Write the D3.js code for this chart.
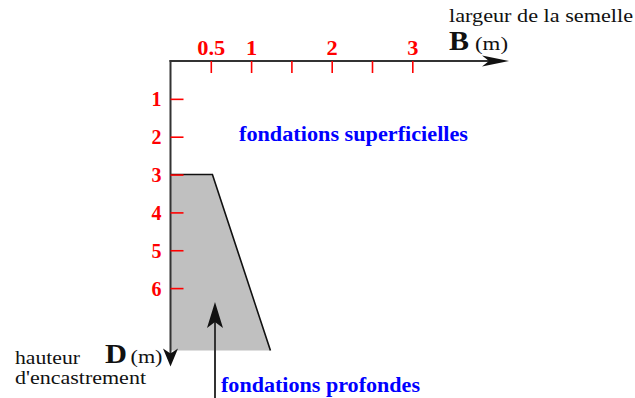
<!DOCTYPE html>
<html>
<head>
<meta charset="utf-8">
<script src="https://cdn.jsdelivr.net/npm/d3@7"></script>
<style>
  body { margin: 0; background: #fff; }
  svg { display: block; }
  svg text { font-family: "Liberation Serif", "Times New Roman", serif; }
</style>
</head>
<body>
<div id="chart"></div>
<script>
// values
var xTicks = [0.5, 1, 1.5, 2, 2.5, 3];
var xTickLabels = ["0.5", "1", "", "2", "", "3"];
var yTicks = [1, 2, 3, 4, 5, 6];
var yTickLabels = ["1", "2", "3", "4", "5", "6"];
var xExtent = [0, 4.2];    // B (m)
var yExtent = [0, 8.07];   // D (m)
// deep foundation zone: [B, D]
var deepZone = [[0, 3], [0.52, 3], [1.24, 7.65], [0, 7.65]];
// pointer towards the deep zone: [B, D] from -> to
var pointer = [[0.552, 9.0], [0.552, 6.37]];

var width = 635, height = 398;

var svg = d3.select("#chart").append("svg")
    .attr("width", width)
    .attr("height", height);

var x = d3.scaleLinear().domain(xExtent).range([170.5, 170.5 + 4.2 * 80.6]);
var y = d3.scaleLinear().domain(yExtent).range([61, 61 + 8.07 * 37.85]);

function arrowHead(tip, dir, len, half, notch) {
    var px = -dir[1], py = dir[0];
    var bx = tip[0] - dir[0] * len, by = tip[1] - dir[1] * len;
    var nx = tip[0] - dir[0] * (len - notch), ny = tip[1] - dir[1] * (len - notch);
    return "M" + tip[0] + "," + tip[1] +
        "L" + (bx + px * half) + "," + (by + py * half) +
        "L" + nx + "," + ny +
        "L" + (bx - px * half) + "," + (by - py * half) + "Z";
}

// grey zone
svg.append("path")
    .datum(deepZone)
    .attr("fill", "#c0c0c0")
    .attr("d", d3.line().x(function(d) { return x(d[0]); }).y(function(d) { return y(d[1]); }));

// outline on top and slanted side only
svg.append("path")
    .datum(deepZone.slice(0, 3))
    .attr("fill", "none")
    .attr("stroke", "#111")
    .attr("stroke-width", 1.6)
    .attr("d", d3.line().x(function(d) { return x(d[0]); }).y(function(d) { return y(d[1]); }));

// pointer arrow
svg.append("line")
    .attr("x1", x(pointer[0][0])).attr("y1", y(pointer[0][1]))
    .attr("x2", x(pointer[1][0])).attr("y2", y(pointer[1][1]) + 10)
    .attr("stroke", "#333")
    .attr("stroke-width", 2);
svg.append("path")
    .attr("d", arrowHead([x(pointer[1][0]), y(pointer[1][1])], [0, -1], 26, 8, 6))
    .attr("fill", "#111");

// axis lines with arrows
svg.append("line")
    .attr("x1", x(0) - 1).attr("y1", y(0))
    .attr("x2", x(xExtent[1]) - 15).attr("y2", y(0))
    .attr("stroke", "#333").attr("stroke-width", 2);
svg.append("path")
    .attr("d", arrowHead([x(xExtent[1]), y(0)], [1, 0], 27, 5.5, 7))
    .attr("fill", "#111");

svg.append("line")
    .attr("x1", x(0)).attr("y1", y(0) - 1)
    .attr("x2", x(0)).attr("y2", y(yExtent[1]) - 10)
    .attr("stroke", "#333").attr("stroke-width", 2);
svg.append("path")
    .attr("d", arrowHead([x(0), y(yExtent[1])], [0, 1], 18, 7.5, 5))
    .attr("fill", "#111");

// red ticks
var xAxis = svg.append("g")
    .attr("transform", "translate(0," + y(0) + ")")
    .call(d3.axisTop(x)
        .tickValues(xTicks)
        .tickFormat(function(d, i) { return xTickLabels[i]; })
        .tickSizeInner(-12)
        .tickSizeOuter(0)
        .tickPadding(6));
xAxis.attr("font-family", null).attr("font-size", null);
xAxis.select(".domain").remove();
xAxis.selectAll(".tick line").attr("stroke", "#ff0000").attr("stroke-width", 1.6);
xAxis.selectAll(".tick text")
    .attr("fill", "#ff0000")
    .attr("transform", "scale(1.12,1)")
    .attr("font-weight", "bold")
    .attr("font-size", 20);

var yAxis = svg.append("g")
    .attr("transform", "translate(" + x(0) + ",0)")
    .call(d3.axisLeft(y)
        .tickValues(yTicks)
        .tickFormat(function(d, i) { return yTickLabels[i]; })
        .tickSizeInner(-13)
        .tickSizeOuter(0)
        .tickPadding(9));
yAxis.attr("font-family", null).attr("font-size", null);
yAxis.select(".domain").remove();
yAxis.selectAll(".tick line").attr("stroke", "#ff0000").attr("stroke-width", 1.6);
yAxis.selectAll(".tick text")
    .attr("fill", "#ff0000")
    .attr("dy", "0.35em")
    .attr("font-weight", "bold")
    .attr("font-size", 20);

// texts
function label(txt, px, py, size, bold, color, len) {
    svg.append("text")
        .attr("x", px).attr("y", py)
        .attr("textLength", len)
        .attr("lengthAdjust", "spacingAndGlyphs")
        .attr("fill", color)
        .attr("font-weight", bold ? "bold" : "normal")
        .attr("font-size", size)
        .text(txt);
}

label("largeur de la semelle", 449, 22, 18.5, false, "#111", 184);
label("B", 449, 49.5, 27, true, "#111", 20);
label("(m)", 475, 49.5, 18.5, false, "#111", 33);

label("fondations superficielles", 239, 141, 21, true, "#0000ff", 229);
label("fondations profondes", 221, 391.5, 21, true, "#0000ff", 199);

label("hauteur", 15, 364, 18.5, false, "#111", 65);
label("d'encastrement", 15, 384, 18.5, false, "#111", 131);
label("D", 105, 363, 27, true, "#111", 22);
label("(m)", 130.5, 363, 18.5, false, "#111", 32);
</script>
</body>
</html>
